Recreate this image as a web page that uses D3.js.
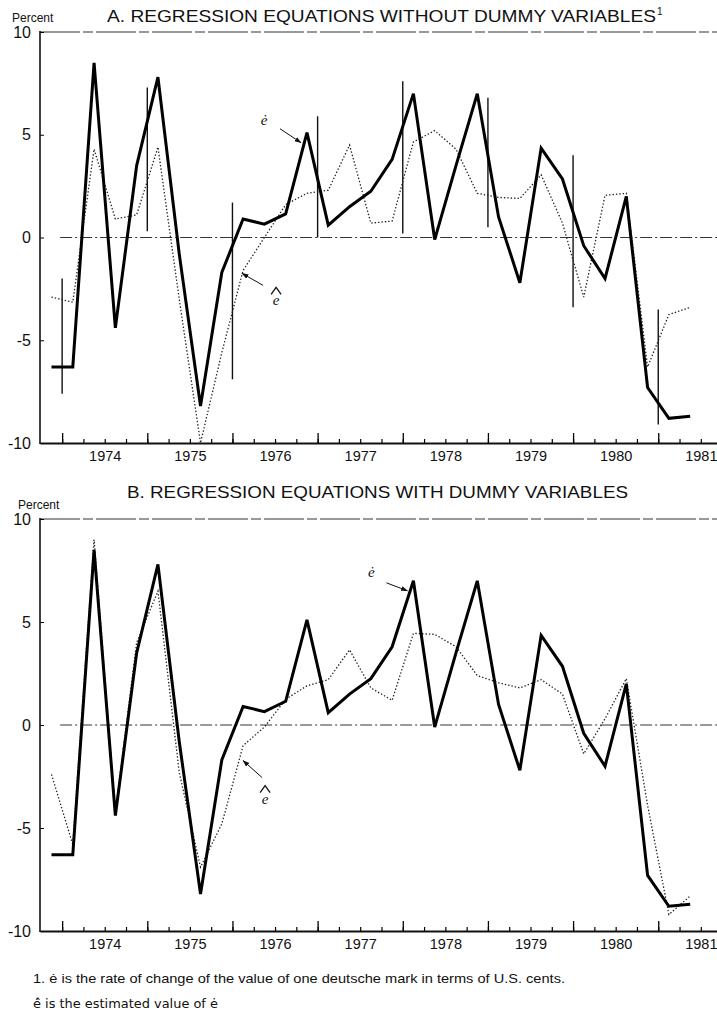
<!DOCTYPE html>
<html>
<head>
<meta charset="utf-8">
<script src="https://cdn.jsdelivr.net/npm/d3@7"></script>
<style>
  body { margin: 0; background: #fff; }
  svg text { font-family: "Liberation Sans", Arial, sans-serif; fill: #111; }
</style>
</head>
<body>
<div id="chart"></div>
<script>
const quarters = ["1973Q4","1974Q1","1974Q2","1974Q3","1974Q4","1975Q1","1975Q2","1975Q3","1975Q4",
  "1976Q1","1976Q2","1976Q3","1976Q4","1977Q1","1977Q2","1977Q3","1977Q4","1978Q1","1978Q2","1978Q3",
  "1978Q4","1979Q1","1979Q2","1979Q3","1979Q4","1980Q1","1980Q2","1980Q3","1980Q4","1981Q1","1981Q2"];

// actual rate of change (e dot), same in both panels
const actual = [-6.3, -6.3, 8.5, -4.4, 3.5, 7.8, -0.8, -8.2, -1.7, 0.9, 0.65, 1.15, 5.1, 0.6, 1.5, 2.25,
  3.8, 7.0, -0.1, 3.5, 7.0, 1.0, -2.2, 4.35, 2.85, -0.4, -2.0, 2.0, -7.3, -8.8, -8.7];

// estimated, without dummy variables
const estimatedA = [-2.9, -3.15, 4.3, 0.9, 1.1, 4.4, -3.0, -10.0, -5.6, -1.6, 0.0, 1.6, 2.15, 2.3, 4.5, 0.7,
  0.8, 4.65, 5.2, 4.3, 2.15, 1.95, 1.9, 3.05, 0.7, -2.9, 2.05, 2.15, -6.3, -3.75, -3.4];

// estimated, with dummy variables
const estimatedB = [-2.4, -5.8, 9.0, -4.2, 4.0, 6.5, -2.3, -6.9, -4.8, -1.0, -0.1, 1.25, 1.9, 2.2, 3.65, 1.8,
  1.2, 4.45, 4.4, 3.8, 2.4, 2.05, 1.8, 2.2, 1.5, -1.4, 0.3, 2.25, -3.9, -9.2, -8.3];

// vertical bars at year boundaries in panel A
const barYears = [1974, 1975, 1976, 1977, 1978, 1979, 1980, 1981];
const barLow = [-7.6, 0.3, -6.9, 0.0, 0.2, 0.5, -3.4, -9.1];
const barHigh = [-2.0, 7.3, 1.7, 5.9, 7.6, 6.8, 4.0, -3.5];

const yearLabels = [1974, 1975, 1976, 1977, 1978, 1979, 1980, 1981];
const yTicks = [10, 5, 0, -5, -10];

const width = 717;
const height = 1019;

const svg = d3.select("#chart").append("svg")
  .attr("width", width)
  .attr("height", height);

const defs = svg.append("defs");
defs.append("marker")
  .attr("id", "arrow")
  .attr("viewBox", "0 0 10 10")
  .attr("refX", 9).attr("refY", 5)
  .attr("markerWidth", 7).attr("markerHeight", 7)
  .attr("orient", "auto")
  .append("path")
  .attr("d", "M0,1.5L10,5L0,8.5Z")
  .attr("fill", "#111");

const x = d3.scaleLinear()
  .domain([1973.74, 1981.69])
  .range([40, 717]);

function quarterTime(q) {
  const [yr, qq] = q.split("Q");
  return +yr + (+qq - 1) / 4 + 0.125;
}

const times = quarters.map(quarterTime);
const quarterTicks = d3.range(1974, 1981.6, 0.25);

function drawPanel(cfg) {
  const y = d3.scaleLinear().domain([-10, 10]).range([cfg.bottom, cfg.top]);
  const g = svg.append("g");

  g.append("text")
    .attr("x", cfg.percentX).attr("y", cfg.top - 10)
    .style("font-size", "12px")
    .text("Percent");

  g.append("text")
    .attr("x", cfg.titleX).attr("y", cfg.titleY)
    .style("font-size", "17px")
    .attr("textLength", cfg.titleLen)
    .attr("lengthAdjust", "spacingAndGlyphs")
    .text(cfg.title);

  if (cfg.note) {
    g.append("text")
      .attr("x", cfg.titleX + cfg.titleLen + 1).attr("y", cfg.titleY - 7)
      .style("font-size", "10px")
      .text(cfg.note);
  }

  // top frame and zero line
  g.append("line")
    .attr("x1", x.range()[0]).attr("x2", x.range()[1])
    .attr("y1", y(10)).attr("y2", y(10))
    .attr("stroke", "#333").attr("stroke-width", 1.1)
    .attr("stroke-dasharray", "40,3,10,3");

  g.append("line")
    .attr("x1", x(1974) - 2).attr("x2", x.range()[1])
    .attr("y1", y(0)).attr("y2", y(0))
    .attr("stroke", "#333").attr("stroke-width", 1)
    .attr("stroke-dasharray", "12,3,2,3");

  // y axis
  const yAxis = g.append("g")
    .attr("transform", `translate(${x.range()[0]},0)`)
    .call(d3.axisLeft(y).tickValues(yTicks).tickSize(-4).tickPadding(9).tickFormat(d => String(d)));
  yAxis.select(".domain").remove();
  yAxis.selectAll("text").style("font-size", "16px").attr("fill", "#111");
  g.append("line")
    .attr("x1", x.range()[0]).attr("x2", x.range()[0])
    .attr("y1", y(10) - 1).attr("y2", y(-10) + 1)
    .attr("stroke", "#111").attr("stroke-width", 1.6);

  // x axis: quarter ticks, year ticks, labels
  const xMinor = g.append("g")
    .attr("transform", `translate(0,${cfg.bottom})`)
    .call(d3.axisBottom(x).tickValues(quarterTicks).tickSize(-4).tickSizeOuter(0).tickFormat(""));
  xMinor.select(".domain").attr("stroke-width", 1.8).attr("stroke", "#111");
  xMinor.selectAll(".tick line").attr("stroke-width", 1.2);

  const xMajor = g.append("g")
    .attr("transform", `translate(0,${cfg.bottom})`)
    .call(d3.axisBottom(x).tickValues(yearLabels).tickSize(-10).tickSizeOuter(0).tickFormat(""));
  xMajor.select(".domain").remove();
  xMajor.selectAll(".tick line").attr("stroke-width", 1.3);

  const xLabels = g.append("g")
    .attr("transform", `translate(0,${cfg.bottom})`)
    .call(d3.axisBottom(x).tickValues(yearLabels.map(d => d + 0.5)).tickSize(0).tickPadding(8)
      .tickFormat(d => String(Math.floor(d))));
  xLabels.select(".domain").remove();
  xLabels.selectAll("text").style("font-size", "14.5px").attr("fill", "#111");

  // vertical bars
  if (cfg.bars) {
    g.selectAll(".bar")
      .data(barYears)
      .enter()
      .append("line")
      .attr("class", "bar")
      .attr("x1", d => x(d)).attr("x2", d => x(d))
      .attr("y1", (d, i) => y(barHigh[i]))
      .attr("y2", (d, i) => y(barLow[i]))
      .attr("stroke", "#111").attr("stroke-width", 1.4);
  }

  const line = d3.line()
    .x((d, i) => x(times[i]))
    .y(d => y(d));

  g.append("path")
    .datum(cfg.estimated)
    .attr("d", line)
    .attr("fill", "none")
    .attr("stroke", "#222")
    .attr("stroke-width", 1.3)
    .attr("stroke-dasharray", "1.4,2");

  g.append("path")
    .datum(actual)
    .attr("d", line)
    .attr("fill", "none")
    .attr("stroke", "#000")
    .attr("stroke-width", 3)
    .attr("stroke-linejoin", "miter");

  // label for e dot
  const ek = cfg.eIndex;
  const ex = x(times[ek]), ey = y(actual[ek]);
  g.append("text")
    .attr("x", ex + cfg.eLabel[0]).attr("y", ey + cfg.eLabel[1])
    .attr("text-anchor", "middle")
    .style("font-family", "'Liberation Serif', serif")
    .style("font-style", "italic")
    .style("font-size", "15px")
    .text("ė");
  g.append("line")
    .attr("x1", ex + cfg.eArrow[0]).attr("y1", ey + cfg.eArrow[1])
    .attr("x2", ex - 6).attr("y2", ey + 10)
    .attr("stroke", "#111").attr("stroke-width", 1)
    .attr("marker-end", "url(#arrow)");

  // label for e hat
  const hk = cfg.hIndex;
  const hx = x(times[hk]), hy = y(cfg.estimated[hk]);
  g.append("line")
    .attr("x1", hx + cfg.hArrow[0]).attr("y1", hy + cfg.hArrow[1])
    .attr("x2", hx + cfg.hTip[0]).attr("y2", hy + cfg.hTip[1])
    .attr("stroke", "#111").attr("stroke-width", 1)
    .attr("marker-end", "url(#arrow)");
  const lx = hx + cfg.hLabel[0], ly = hy + cfg.hLabel[1];
  g.append("text")
    .attr("x", lx).attr("y", ly)
    .attr("text-anchor", "middle")
    .style("font-family", "'Liberation Serif', serif")
    .style("font-style", "italic")
    .style("font-size", "15px")
    .text("e");
  g.append("path")
    .attr("d", `M${lx - 5},${ly - 11}L${lx},${ly - 18}L${lx + 5},${ly - 11}`)
    .attr("fill", "none")
    .attr("stroke", "#111")
    .attr("stroke-width", 1.3);
}

drawPanel({
  top: 32, bottom: 443, percentX: 12,
  title: "A. REGRESSION EQUATIONS WITHOUT DUMMY VARIABLES", note: "1",
  titleX: 107, titleY: 22, titleLen: 549,
  estimated: estimatedA, bars: true,
  eIndex: 12, eLabel: [-43, -8], eArrow: [-27, -4],
  hIndex: 9, hTip: [-1, 3], hArrow: [20, 15], hLabel: [33, 35]
});

drawPanel({
  top: 519, bottom: 931, percentX: 18,
  title: "B. REGRESSION EQUATIONS WITH DUMMY VARIABLES",
  titleX: 127, titleY: 498, titleLen: 501,
  estimated: estimatedB, bars: false,
  eIndex: 17, eLabel: [-42, -4], eArrow: [-27, 2],
  hIndex: 9, hTip: [0, 15], hArrow: [19, 32], hLabel: [22, 58]
});

svg.append("text")
  .attr("x", 33).attr("y", 983)
  .style("font-size", "13px")
  .attr("textLength", 532)
  .attr("lengthAdjust", "spacingAndGlyphs")
  .text("1. ė is the rate of change of the value of one deutsche mark in terms of U.S. cents.");

svg.append("text")
  .attr("x", 33).attr("y", 1008)
  .style("font-size", "13px")
  .style("font-family", "'DejaVu Sans', sans-serif")
  .attr("textLength", 185)
  .attr("lengthAdjust", "spacingAndGlyphs")
  .text("e\u0307\u0302 is the estimated value of ė");
</script>
</body>
</html>
